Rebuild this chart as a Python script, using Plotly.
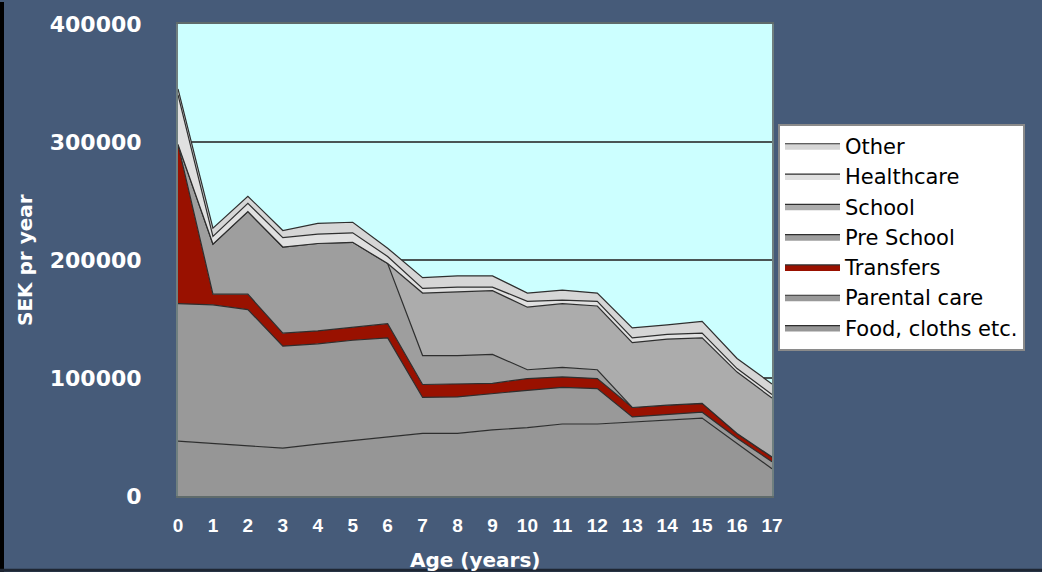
"""Cost of a child per year, stacked by cost type."""

import plotly.graph_objects as go

# ── Data (SEK per year) ───────────────────────────────────────────────────────

AGES = list(range(18))

FOOD = [46500, 44500, 42000, 40500, 44000, 47000, 50000, 53000, 53000,
        56000, 58000, 61000, 61000, 62500, 64000, 66000, 44500, 23000]
PARENTAL = [116500, 117500, 116000, 86500, 85000, 85000, 84000, 30500, 31000,
            31000, 31500, 31000, 30000, 4500, 5000, 5000, 4500, 6000]
TRANSFERS = [135000, 9000, 13000, 11000, 11000, 11000, 12000, 11000, 11000,
             8500, 10000, 9000, 8500, 8000, 8000, 7500, 4000, 4000]
PRE_SCHOOL = [0, 42500, 70000, 73000, 74000, 72000, 51000, 24500, 24000,
              24500, 7500, 8000, 7500, 0, 0, 0, 0, 0]
SCHOOL = [0, 0, 0, 0, 0, 0, 0, 53000, 54000,
          54000, 53000, 54000, 54000, 55000, 56000, 55500, 52000, 50000]
HEALTHCARE = [42000, 6500, 7000, 8000, 8000, 8000, 6000, 4000, 4000,
              3000, 5000, 3000, 4000, 4000, 4000, 4000, 3000, 3000]
OTHER = [5000, 7000, 6000, 6000, 9000, 9000, 7000, 9000, 9500,
         9500, 7000, 8500, 7000, 8500, 8000, 10000, 8500, 9000]

SERIES = [
    ("Food, cloths etc.", FOOD,       "#969696"),
    ("Parental care",     PARENTAL,   "#999999"),
    ("Transfers",         TRANSFERS,  "#991100"),
    ("Pre School",        PRE_SCHOOL, "#9e9e9e"),
    ("School",            SCHOOL,     "#acacac"),
    ("Healthcare",        HEALTHCARE, "#e0e0e0"),
    ("Other",             OTHER,      "#d6d6d6"),
]

Y_TICKS = [0, 100000, 200000, 300000, 400000]

BG = "#465b79"
W, H = 1042, 572
M = dict(l=178, r=270, t=22, b=76)
PW = W - M["l"] - M["r"]
PH = H - M["t"] - M["b"]

# ── Figure ────────────────────────────────────────────────────────────────────

fig = go.Figure()
for name, vals, color in SERIES:
    fig.add_trace(go.Scatter(
        x=AGES, y=vals, name=name,
        mode="lines",
        stackgroup="one",
        fillcolor=color,
        line=dict(color="#2e2e2e", width=1.2),
    ))

bold = dict(family="DejaVu Sans", color="white", weight="bold")

fig.update_layout(
    width=W, height=H,
    margin=M,
    paper_bgcolor=BG,
    plot_bgcolor="#ccffff",
    showlegend=True,
    legend=dict(
        x=1 + 6 / PW, y=1 - 100 / PH, xanchor="left", yanchor="top",
        traceorder="reversed",
        bgcolor="white", bordercolor="#8a8a8a", borderwidth=2,
        font=dict(family="DejaVu Sans", size=21, color="black"),
        itemwidth=55,
    ),
    xaxis=dict(
        range=[0, 17], tickvals=AGES, showgrid=False, zeroline=False,
        showline=True, linecolor="#5f6b6b", linewidth=2, mirror=True,
        ticks="", ticklabelstandoff=11,
        tickfont=dict(family="Liberation Sans Narrow, Liberation Sans",
                      size=19, color="white", weight="bold"),
    ),
    yaxis=dict(
        range=[0, 400000], tickvals=Y_TICKS, tickformat="d",
        showgrid=True, gridcolor="#4a5555", gridwidth=1.5, zeroline=False,
        showline=True, linecolor="#6f7f7f", linewidth=2, mirror=True,
        ticks="", ticklabelstandoff=30,
        tickfont=dict(size=22, **bold),
    ),
    annotations=[
        dict(text="Age (years)", xref="paper", yref="paper",
             x=0.5, y=-64 / PH, yanchor="middle", showarrow=False,
             font=dict(size=20, **bold)),
        dict(text="SEK pr year", xref="paper", yref="paper",
             x=-153 / PW, y=0.5, xanchor="center", yanchor="middle",
             textangle=-90, showarrow=False,
             font=dict(size=20, **bold)),
    ],
    shapes=[
        # dark frame strips at the left and bottom edges of the slide
        dict(type="rect", xref="paper", yref="paper",
             x0=-M["l"] / PW, x1=-(M["l"] - 4) / PW,
             y0=-M["b"] / PH, y1=1 + M["t"] / PH,
             fillcolor="black", line_width=0),
        dict(type="rect", xref="paper", yref="paper",
             x0=-M["l"] / PW, x1=1 + M["r"] / PW,
             y0=-M["b"] / PH, y1=-(M["b"] - 3) / PH,
             fillcolor="#1e2633", line_width=0),
    ],
)

# page margin off so the figure sits at the window's top-left corner
fig.write_html(
    "out.html",
    config={"displayModeBar": False},
    post_script="document.body.style.margin='0';"
                f"document.body.style.background='{BG}';",
)
